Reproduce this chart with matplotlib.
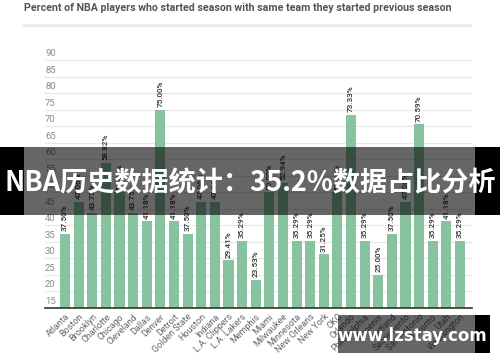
import matplotlib
matplotlib.use("Agg")
import matplotlib.pyplot as plt
from matplotlib.patches import Rectangle
from matplotlib.lines import Line2D
import matplotlib.transforms as mtransforms

teams = ["Atlanta", "Boston", "Brooklyn", "Charlotte", "Chicago", "Cleveland", "Dallas",
         "Denver", "Detroit", "Golden State", "Houston", "Indiana", "L.A. Clippers",
         "L.A. Lakers", "Memphis", "Miami", "Milwaukee", "Minnesota", "New Orleans",
         "New York", "OKC", "Orlando", "Philadelphia", "Phoenix", "Portland",
         "Sacramento", "San Antonio", "Toronto", "Utah", "Washington"]
values = [37.50, 47.06, 43.75, 58.82, 50.00, 43.75, 41.18,
          75.00, 41.18, 37.50, 47.06, 47.06, 29.41,
          35.29, 23.53, 50.00, 52.94, 35.29, 35.29,
          31.25, 50.00, 73.33, 35.29, 25.00, 37.50,
          47.06, 70.59, 35.29, 41.18, 35.29]
yticks = [15, 20, 25, 30, 35, 40, 45, 50, 55, 60, 65, 70, 75, 80, 85, 90]
title = "Percent of NBA players who started season with same team they started previous season"
banner = "NBA历史数据统计：35.2%数据占比分析"
watermark = "www.lzstay.com"

W, H = 500, 362
fig = plt.figure(figsize=(W / 100, H / 100), dpi=100)
fig.patch.set_facecolor("white")

def fx(px):
    return px / W

def fy(py):
    return 1 - py / H

ax = fig.add_axes([fx(45), fy(308), fx(472) - fx(45), (308 - 53.4) / H])
x = list(range(len(teams)))
ax.bar(x, values, width=0.74, color="#88c3a0", zorder=2)
ax.set_xlim(-1.47, len(teams) - 1 + 0.88)
ax.set_ylim(15, 92)

for s in ["top", "right", "left"]:
    ax.spines[s].set_visible(False)
ax.spines["bottom"].set_color("#333333")
ax.spines["bottom"].set_linewidth(1.2)
ax.spines["bottom"].set_zorder(3)

ax.set_yticks(yticks)
ax.set_yticklabels([])
ax.tick_params(axis="y", length=0)
ax.grid(axis="y", color="#e6e6e6", linewidth=0.8, zorder=0)
trans = mtransforms.blended_transform_factory(ax.transAxes, ax.transData)
for t in yticks:
    ax.text(0.0, t + 0.6, str(t), transform=trans, ha="left", va="bottom",
            fontsize=6.8, color="#8a8a8a", family="Roboto")

ax.set_xticks(x)
ax.set_xticklabels(teams, rotation=45, ha="right", rotation_mode="anchor",
                   fontsize=6.5, color="#666666", family="Roboto")
ax.tick_params(axis="x", length=0, pad=3)

for xi, v in zip(x, values):
    ax.text(xi, v + 0.8, f"{v:.2f}%", rotation=90, ha="center", va="bottom",
            fontsize=5.9, color="#333333", family="Roboto", fontweight="medium")

# title and separator
fig.text(fx(24), fy(8), title, ha="left", va="center", fontsize=7.7,
         fontweight="bold", color="#555555", family="Roboto")
fig.add_artist(Line2D([fx(24), fx(470)], [fy(25), fy(25)], color="#ebebeb",
                      linewidth=2.2, transform=fig.transFigure))

# banner overlay
fig.add_artist(Rectangle((fx(24), fy(215)), fx(475) - fx(24), (215 - 147) / H,
                         transform=fig.transFigure, facecolor="black", alpha=0.6,
                         edgecolor="none", zorder=10))
fig.add_artist(Rectangle((0, fy(215)), fx(24), (215 - 147) / H,
                         transform=fig.transFigure, facecolor="black",
                         edgecolor="none", zorder=10))
fig.add_artist(Rectangle((fx(475), fy(215)), 1 - fx(475), (215 - 147) / H,
                         transform=fig.transFigure, facecolor="black",
                         edgecolor="none", zorder=10))
fig.text(0.5, fy(183), banner, ha="center", va="center", fontsize=19.5,
         fontweight="bold", color="white",
         family=["Noto Sans CJK SC", "DejaVu Sans"], zorder=11)

# watermark
fig.add_artist(Rectangle((fx(338), fy(353)), fx(475) - fx(338), (353 - 315) / H,
                         transform=fig.transFigure, facecolor="black", alpha=0.6,
                         edgecolor="none", zorder=10))
fig.add_artist(Rectangle((fx(475), fy(353)), fx(490) - fx(475), (353 - 315) / H,
                         transform=fig.transFigure, facecolor="black",
                         edgecolor="none", zorder=10))
fig.text(fx(412), fy(336), watermark, ha="center", va="center", fontsize=12,
         fontweight="bold", color="white", family="DejaVu Sans", zorder=11)

fig.savefig("out.png", dpi=100, facecolor="white")
